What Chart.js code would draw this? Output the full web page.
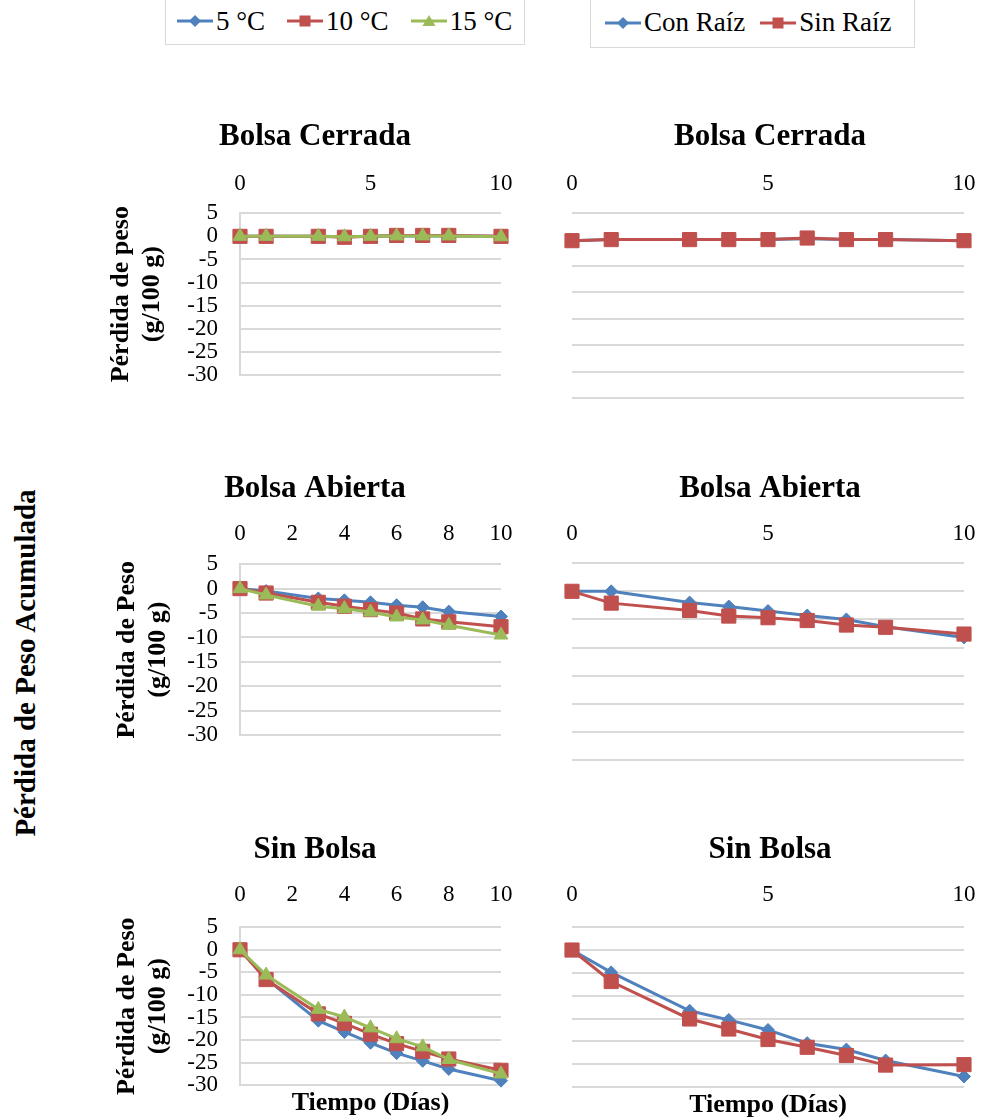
<!DOCTYPE html>
<html><head><meta charset="utf-8">
<script src="https://cdn.jsdelivr.net/npm/chart.js@4.4.1/dist/chart.umd.min.js"></script>
<style>
html,body{margin:0;padding:0;background:#fff;overflow:hidden;}
body{width:982px;height:1120px;position:relative;font-family:'Liberation Serif','Times New Roman',serif;color:#000;}
canvas{position:absolute;}
.legend{position:absolute;border:1px solid #d9d9d9;display:flex;align-items:center;box-sizing:border-box;font-size:27px;white-space:nowrap;}
.item{display:flex;align-items:center;margin-right:22px;}
.item svg{margin-right:3px;}
#legR .item{margin-right:15px;}
#biglabel{position:absolute;left:25px;top:663px;transform:translate(-50%,-50%) rotate(-90deg);font-weight:bold;font-size:29px;white-space:nowrap;}
</style></head>
<body>
<div class="legend" id="legT" style="left:165px;top:-3px;width:360px;height:48px;padding-left:11px;"></div>
<div class="legend" id="legR" style="left:590px;top:-3px;width:325px;height:51px;padding-left:14px;"></div>
<div id="biglabel">Pérdida de Peso Acumulada</div>
<canvas id="c1" width="430" height="311" style="left:100px;top:100px;"></canvas>
<canvas id="c2" width="420" height="312" style="left:560px;top:100px;"></canvas>
<canvas id="c3" width="430" height="321" style="left:100px;top:450px;"></canvas>
<canvas id="c4" width="420" height="324" style="left:560px;top:450px;"></canvas>
<canvas id="c5" width="430" height="311" style="left:100px;top:810px;"></canvas>
<canvas id="c6" width="420" height="311" style="left:560px;top:810px;"></canvas>
<script>
// ---- data ----
const dias = [0, 1, 3, 4, 5, 6, 7, 8, 10];
const temperaturas = ['5 °C', '10 °C', '15 °C'];
const raices = ['Con Raíz', 'Sin Raíz'];
const titulos = ['Bolsa Cerrada', 'Bolsa Abierta', 'Sin Bolsa'];
const yTitulo1 = ['Pérdida de peso', '(g/100 g)'];
const yTitulo2 = ['Pérdida de Peso', '(g/100 g)'];
const xTitulo = 'Tiempo (Días)';

const cerrada5  = [0, 0, 0, -0.1, 0, 0.1, 0.1, 0.1, 0];
const cerrada10 = [0, 0, 0, -0.2, 0, 0.2, 0.2, 0.2, 0];
const cerrada15 = [0, 0, 0, -0.1, 0, 0.1, 0.1, 0.1, -0.1];

const abierta5  = [0, -0.5, -2.0, -2.4, -2.8, -3.4, -3.8, -4.7, -5.7];
const abierta10 = [0, -0.9, -2.8, -3.6, -4.3, -5.0, -6.2, -6.8, -7.8];
const abierta15 = [0, -1.3, -3.6, -4.1, -4.8, -5.8, -6.4, -7.5, -9.5];

const sinBolsa5  = [0, -6.4, -15.7, -18.2, -20.6, -22.9, -24.6, -26.4, -29.0];
const sinBolsa10 = [0, -6.6, -14.2, -16.3, -18.7, -20.8, -22.5, -24.2, -26.7];
const sinBolsa15 = [0, -5.6, -13.2, -14.9, -17.3, -19.7, -21.5, -24.3, -27.5];

const cerradaCon = [-0.2, 0, 0, 0, 0, 0.2, 0, 0, -0.2];
const cerradaSin = [-0.2, 0, 0, 0, 0, 0.3, 0, 0, -0.2];

const abiertaCon = [0, 0, -2.0, -2.7, -3.5, -4.3, -5.0, -6.3, -8.2];
const abiertaSin = [0, -2.1, -3.4, -4.4, -4.7, -5.2, -6.0, -6.4, -7.6];

const sinBolsaCon = [0, -4.9, -13.3, -15.3, -17.5, -20.4, -21.8, -24.2, -27.7];
const sinBolsaSin = [0, -6.9, -15.1, -17.3, -19.6, -21.3, -23.1, -25.2, -25.1];

const yMin = -30, yMax = 5, yStep = 5;
const xMin = 0, xMax = 10;

// ---- styles ----
const FONT = "'Liberation Serif', 'Times New Roman', serif";
const COLORS = ['#4F81BD', '#C0504D', '#9BBB59'];
const MARKERS = ['rectRot', 'rect', 'triangle'];
const RADII = [6.5, 10, 8];

// ---- legends ----
function markerSvg(i) {
  const c = COLORS[i];
  let m = '';
  if (i === 0) m = `<polygon points="18,1 24,7 18,13 12,7" fill="${c}"/>`;
  if (i === 1) m = `<rect x="12.5" y="1.5" width="11" height="11" fill="${c}"/>`;
  if (i === 2) m = `<polygon points="18,1 24.5,12 11.5,12" fill="${c}"/>`;
  return `<svg width="36" height="14" viewBox="0 0 36 14"><line x1="0" y1="7" x2="36" y2="7" stroke="${c}" stroke-width="3"/>${m}</svg>`;
}
function buildLegend(id, names) {
  document.getElementById(id).innerHTML = names.map((n, i) =>
    `<div class="item">${markerSvg(i)}<span>${n}</span></div>`).join('');
}
buildLegend('legT', temperaturas);
buildLegend('legR', raices);

// ---- charts ----
function makeChart(id, o) {
  const L = o.side === 'L';
  const tickFont = {family: FONT, size: 23};
  const datasets = o.series.map((vals, i) => ({
    label: o.names[i],
    data: dias.map((d, j) => ({x: d, y: vals[j]})),
    borderColor: COLORS[i],
    backgroundColor: COLORS[i],
    pointBackgroundColor: COLORS[i],
    pointBorderColor: COLORS[i],
    pointStyle: MARKERS[i],
    pointRadius: RADII[i],
    pointBorderWidth: 1,
    borderWidth: 3,
    tension: 0,
    clip: false,
    order: o.series.length - 1 - i
  }));
  const scales = {
    x: {
      type: 'linear', position: 'top', min: xMin, max: xMax,
      ticks: {stepSize: o.xStep, padding: 0, font: tickFont, color: '#000', maxRotation: 0, autoSkip: false},
      grid: {display: false, drawTicks: true, tickLength: o.xPad},
      border: {display: false},
      afterFit(s) { s.height = o.xH; }
    },
    y: {
      type: 'linear', position: 'left', min: yMin, max: yMax,
      ticks: {stepSize: yStep, padding: 22, display: L, font: tickFont, color: '#000', autoSkip: false},
      grid: {color: '#d9d9d9', lineWidth: 2, drawTicks: false},
      border: {display: L, color: '#d9d9d9', width: 2},
      title: L ? {display: true, text: o.yTitle, color: '#000',
        font: {family: FONT, size: 26, weight: 'bold', lineHeight: 1.22},
        padding: {top: o.yTitlePad, bottom: 0}} : {display: false},
      afterFit(s) { s.width = L ? 140 : 12; }
    },
    pad: {
      type: 'linear', position: 'right', display: true,
      ticks: {display: false}, grid: {display: false, drawTicks: false}, border: {display: false},
      afterFit(s) { s.width = L ? 29 : 16; }
    }
  };
  if (o.bottomTitle) {
    scales.x2 = {
      type: 'linear', position: 'bottom', min: xMin, max: xMax, display: true,
      ticks: {display: false}, grid: {display: false, drawTicks: false}, border: {display: false},
      title: {display: true, text: o.bottomTitle, color: '#000',
        font: {family: FONT, size: 26, weight: 'bold'}, padding: {top: 0, bottom: 0}},
      afterFit(s) { s.height = 34; }
    };
  }
  return new Chart(document.getElementById(id), {
    type: 'line',
    data: {datasets},
    options: {
      responsive: false, animation: false, events: [],
      layout: {padding: {left: 0, right: 0, top: 0, bottom: o.padBottom}},
      plugins: {
        legend: {display: false},
        tooltip: {enabled: false},
        title: {display: true, text: o.title, color: '#000',
          font: {family: FONT, size: 31, weight: 'bold'},
          padding: {top: o.titlePad, bottom: 0}}
      },
      scales
    }
  });
}

makeChart('c1', {side: 'L', title: titulos[0], titlePad: 18, xStep: 5, xH: 58, xPad: 15,
  yTitle: yTitulo1, yTitlePad: 5, padBottom: 14, names: temperaturas,
  series: [cerrada5, cerrada10, cerrada15]});
makeChart('c2', {side: 'R', title: titulos[0], titlePad: 18, xStep: 5, xH: 58, xPad: 15,
  padBottom: 14, names: raices, series: [cerradaCon, cerradaSin]});
makeChart('c3', {side: 'L', title: titulos[1], titlePad: 20, xStep: 2, xH: 57, xPad: 16,
  yTitle: yTitulo2, yTitlePad: 11, padBottom: 14, names: temperaturas,
  series: [abierta5, abierta10, abierta15]});
makeChart('c4', {side: 'R', title: titulos[1], titlePad: 20, xStep: 5, xH: 56, xPad: 15,
  padBottom: 14, names: raices, series: [abiertaCon, abiertaSin]});
makeChart('c5', {side: 'L', title: titulos[2], titlePad: 21, xStep: 2, xH: 59, xPad: 18,
  yTitle: yTitulo2, yTitlePad: 11, padBottom: 0, bottomTitle: xTitulo, names: temperaturas,
  series: [sinBolsa5, sinBolsa10, sinBolsa15]});
makeChart('c6', {side: 'R', title: titulos[2], titlePad: 21, xStep: 5, xH: 59, xPad: 18,
  padBottom: 0, bottomTitle: xTitulo, names: raices,
  series: [sinBolsaCon, sinBolsaSin]});
</script>
</body></html>
